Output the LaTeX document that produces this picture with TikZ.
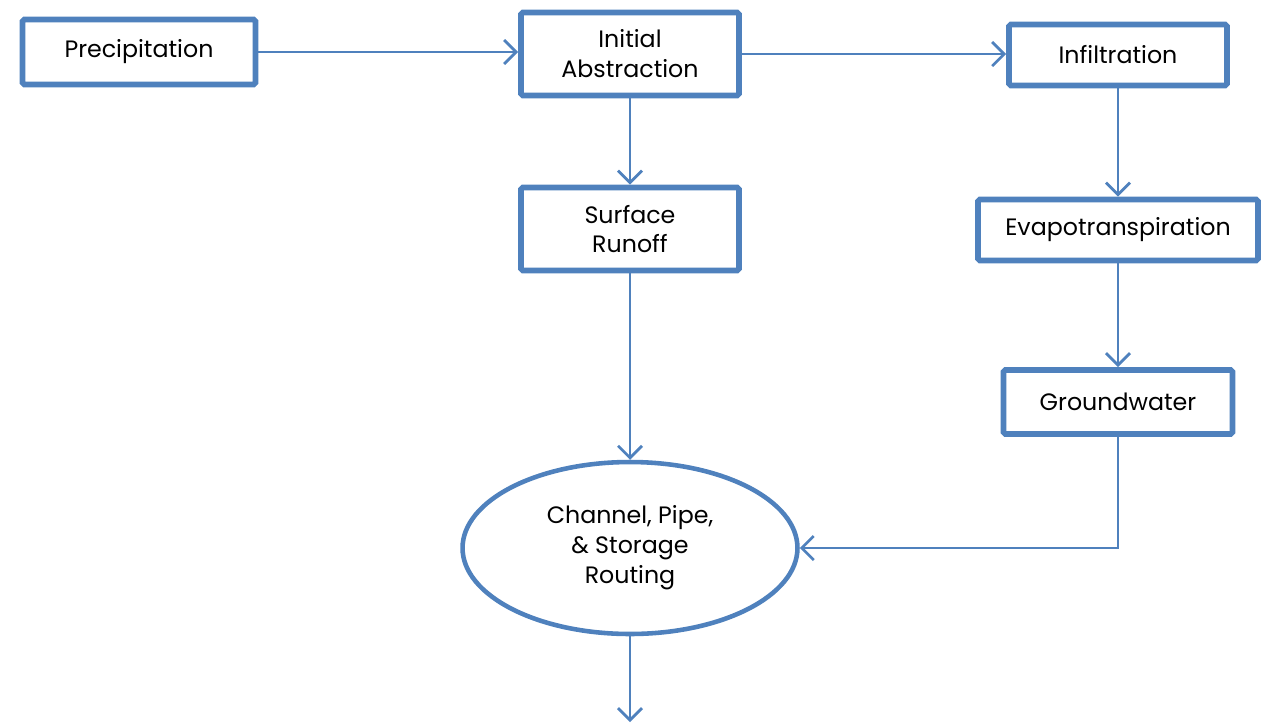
\documentclass[tikz,border=0pt]{standalone}
\usepackage{fontspec}
\setmainfont{Poppins}
\usetikzlibrary{arrows.meta,shapes.geometric}
\definecolor{flowblue}{HTML}{4F81BD}

\begin{document}
\begin{tikzpicture}[x=0.02cm,y=-0.02cm,>={Straight Barb[length=2.4mm,width=4.8mm]},
	box/.style={draw=flowblue,line width=3.2pt,rounded corners=1pt,fill=white,align=center,inner sep=0pt,font=\fontsize{13.5}{17}\selectfont},
	flow/.style={->,draw=flowblue,line width=1.6pt}]
		\useasboundingbox (0,0) rectangle (1281,724);
		
		% Boxes
		\node[box,minimum width=4.66cm,minimum height=1.3cm] (precip) at (139,52) {Precipitation};
		\node[box,minimum width=4.36cm,minimum height=1.66cm] (abstr) at (630,54) {Initial\\Abstraction};
		\node[box,minimum width=4.36cm,minimum height=1.22cm] (infil) at (1118,55) {Infiltration};
		\node[box,minimum width=4.36cm,minimum height=1.66cm] (runoff) at (630,229) {Surface\\Runoff};
		\node[box,minimum width=5.6cm,minimum height=1.22cm] (evapo) at (1118,230) {Evapotranspiration};
		\node[box,minimum width=4.58cm,minimum height=1.28cm] (ground) at (1118,402) {Groundwater};
		
		% Routing
		\node[box,ellipse,rounded corners=0pt,line width=2.6pt,minimum width=6.7cm,minimum height=3.44cm] (routing) at (630,548) {Channel, Pipe,\\\& Storage\\Routing};
		\coordinate (outflow) at (630,722);
		
		% Connectors
		\draw[flow] (precip.east) -- (precip.east -| abstr.west);
		\draw[flow] (abstr.east) -- (abstr.east -| infil.west);
		\draw[flow] (abstr) -- (runoff);
		\draw[flow] (infil) -- (evapo);
		\draw[flow] (evapo) -- (ground);
		\draw[flow] (runoff) -- (routing);
		\draw[flow] (ground.south) |- (routing.east);
		\draw[flow] (routing) -- (outflow);
	\end{tikzpicture}
\end{document}
